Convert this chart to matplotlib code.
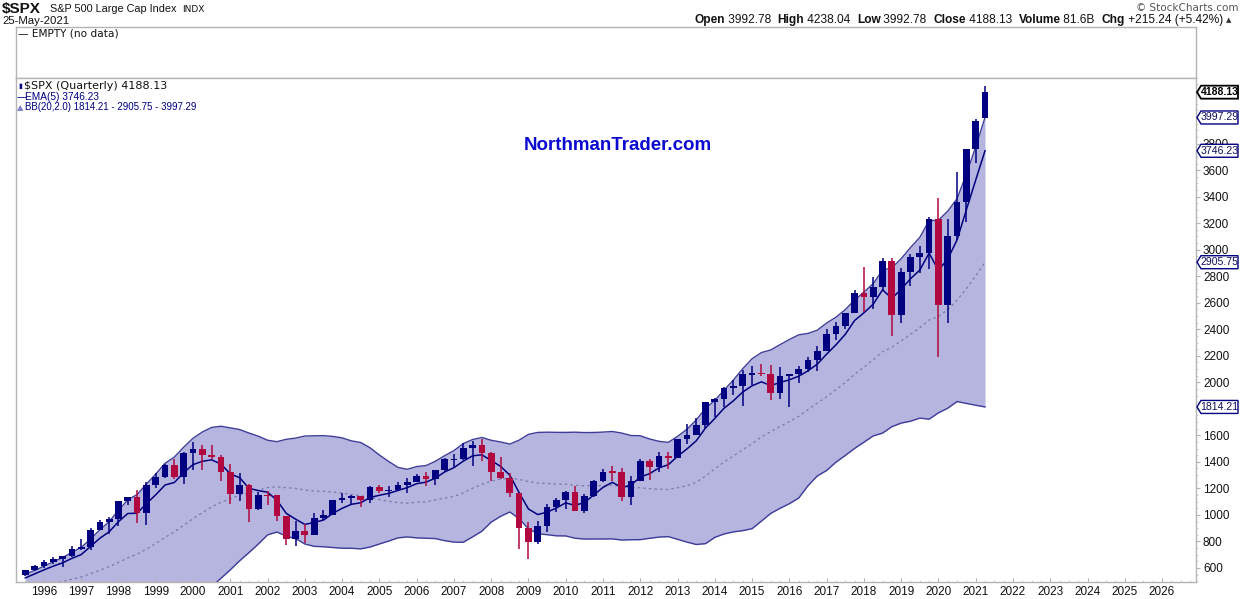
import matplotlib
matplotlib.use("Agg")
import matplotlib.pyplot as plt
from matplotlib.patches import Polygon
import numpy as np
import pandas as pd

# ---------------- data (quarterly $SPX) ----------------
quarters = [f"{y}Q{q}" for y in range(1995, 2022) for q in range(1, 5)][2:-2]
opens = [544.75, 584.41,
         615.93, 645.50, 670.63, 687.31,
         740.74, 757.12, 885.14, 947.28,
         970.43, 1101.75, 1133.84, 1017.01,
         1229.23, 1286.37, 1372.71, 1282.71,
         1469.25, 1498.58, 1454.60, 1436.51,
         1320.28, 1160.33, 1224.42, 1040.94,
         1148.08, 1147.39, 989.82, 815.28,
         879.82, 848.18, 974.50, 995.97,
         1111.92, 1126.21, 1140.84, 1114.58,
         1211.92, 1180.59, 1191.33, 1228.81,
         1248.29, 1294.83, 1270.20, 1335.85,
         1418.30, 1420.86, 1503.35, 1526.75,
         1468.36, 1322.70, 1280.00, 1166.36,
         903.25, 797.87, 919.32, 1057.08,
         1115.10, 1169.43, 1030.71, 1141.20,
         1257.64, 1325.83, 1320.64, 1131.42,
         1257.60, 1408.47, 1362.16, 1440.67,
         1426.19, 1569.19, 1606.28, 1681.55,
         1848.36, 1872.34, 1960.23, 1972.29,
         2058.90, 2067.89, 2063.11, 1920.03,
         2043.94, 2059.74, 2098.86, 2168.27,
         2238.83, 2362.72, 2423.41, 2519.36,
         2673.61, 2640.87, 2718.37, 2913.98,
         2506.85, 2834.40, 2941.76, 2976.74,
         3230.78, 2584.59, 3100.29, 3363.00,
         3756.07, 3992.78]
highs = [586.77, 622.88,
         656.97, 681.10, 690.88, 762.12,
         817.68, 898.70, 961.38, 983.79,
         1105.65, 1138.49, 1190.58, 1244.93,
         1316.55, 1383.26, 1420.33, 1473.10,
         1553.11, 1527.19, 1530.09, 1454.00,
         1383.37, 1315.93, 1236.79, 1172.64,
         1176.97, 1147.84, 994.46, 954.28,
         935.05, 1015.33, 1040.29, 1112.56,
         1163.23, 1150.57, 1140.84, 1217.90,
         1229.11, 1219.59, 1245.86, 1275.80,
         1310.88, 1326.70, 1340.28, 1431.81,
         1461.57, 1540.56, 1555.90, 1576.09,
         1471.77, 1440.24, 1313.15, 1167.03,
         943.85, 956.23, 1080.15, 1130.38,
         1180.69, 1219.80, 1157.16, 1262.60,
         1344.07, 1370.58, 1356.48, 1292.66,
         1419.15, 1422.38, 1474.51, 1470.96,
         1570.28, 1687.18, 1729.86, 1849.44,
         1883.97, 1968.17, 2019.26, 2093.55,
         2119.59, 2134.72, 2132.82, 2116.48,
         2043.94, 2120.55, 2193.81, 2277.53,
         2400.98, 2453.82, 2519.44, 2694.97,
         2872.87, 2791.47, 2940.91, 2939.86,
         2860.31, 2964.15, 3027.98, 3247.93,
         3393.52, 3233.13, 3588.11, 3760.20,
         3983.87, 4238.04]
lows = [539.24, 576.55,
        597.29, 627.50, 605.88, 684.12,
        733.16, 733.54, 884.36, 855.27,
        912.83, 1074.91, 939.98, 923.32,
        1205.46, 1281.41, 1268.37, 1233.70,
        1339.15, 1339.40, 1422.62, 1254.07,
        1081.19, 1103.26, 944.75, 1037.00,
        1074.36, 952.80, 775.68, 768.63,
        788.90, 847.85, 960.84, 995.97,
        1087.16, 1076.32, 1060.72, 1090.19,
        1163.69, 1136.15, 1183.55, 1168.20,
        1245.74, 1219.29, 1224.54, 1327.10,
        1363.98, 1416.37, 1370.60, 1406.10,
        1256.98, 1272.00, 1133.50, 741.02,
        666.79, 783.32, 869.32, 1019.95,
        1044.50, 1028.33, 1010.91, 1131.87,
        1249.05, 1258.07, 1101.54, 1074.77,
        1258.86, 1266.74, 1325.41, 1343.35,
        1426.19, 1536.03, 1604.57, 1646.47,
        1737.92, 1814.36, 1904.78, 1820.66,
        1980.90, 2048.38, 1867.01, 1871.91,
        1810.10, 1991.68, 2074.02, 2083.79,
        2233.62, 2322.25, 2405.70, 2520.40,
        2532.69, 2553.80, 2691.99, 2346.58,
        2443.96, 2728.81, 2822.12, 2855.94,
        2191.86, 2447.49, 3073.17, 3209.45,
        3656.64, 3992.78]
closes = [584.41, 615.93,
          645.50, 670.63, 687.31, 740.74,
          757.12, 885.14, 947.28, 970.43,
          1101.75, 1133.84, 1017.01, 1229.23,
          1286.37, 1372.71, 1282.71, 1469.25,
          1498.58, 1454.60, 1436.51, 1320.28,
          1160.33, 1224.42, 1040.94, 1148.08,
          1147.39, 989.82, 815.28, 879.82,
          848.18, 974.50, 995.97, 1111.92,
          1126.21, 1140.84, 1114.58, 1211.92,
          1180.59, 1191.33, 1228.81, 1248.29,
          1294.83, 1270.20, 1335.85, 1418.30,
          1420.86, 1503.35, 1526.75, 1468.36,
          1322.70, 1280.00, 1166.36, 903.25,
          797.87, 919.32, 1057.08, 1115.10,
          1169.43, 1030.71, 1141.20, 1257.64,
          1325.83, 1320.64, 1131.42, 1257.60,
          1408.47, 1362.16, 1440.67, 1426.19,
          1569.19, 1606.28, 1681.55, 1848.36,
          1872.34, 1960.23, 1972.29, 2058.90,
          2067.89, 2063.11, 1920.03, 2043.94,
          2059.74, 2098.86, 2168.27, 2238.83,
          2362.72, 2423.41, 2519.36, 2673.61,
          2640.87, 2718.37, 2913.98, 2506.85,
          2834.40, 2941.76, 2976.74, 3230.78,
          2584.59, 3100.29, 3363.00, 3756.07,
          3972.89, 4188.13]
# closes before the visible window (1990Q3 - 1995Q2), needed for the indicators
prior_closes = [306.05, 330.22, 375.22, 371.16, 387.86, 417.09, 403.69,
                408.14, 417.80, 435.71, 451.67, 450.53, 458.93, 466.45,
                445.77, 444.27, 462.69, 459.27, 500.71, 544.75]

# last indicator readings as printed on the chart
last_close = 4188.13
last_ema = 3746.23
last_bb = [1814.21, 2905.75, 3997.29]   # lower, middle, upper

year_labels = list(range(1996, 2027))
price_ticks = [600, 800, 1000, 1200, 1400, 1600, 2000, 2200, 2400, 2600, 2800,
               3000, 3200, 3400, 3600, 3800]
header_fields = [("Open", "3992.78"), ("High", "4238.04"), ("Low", "3992.78"),
                 ("Close", "4188.13"), ("Volume", "81.6B"), ("Chg", "+215.24 (+5.42%)")]

# ---------------- derived ----------------
o = np.array(opens); h = np.array(highs); l = np.array(lows); c = np.array(closes)
t = np.array([int(s[:4]) + (int(s[-1]) - 1) / 4 for s in quarters])
allc = pd.Series(prior_closes + closes)
ema = allc.ewm(span=5, adjust=False).mean().values[len(prior_closes):]
mid = allc.rolling(20).mean().values[len(prior_closes):]
sd = allc.rolling(20).std(ddof=0).values[len(prior_closes):]
upper = mid + 2 * sd
lower = mid - 2 * sd

NAVY = "#000080"
RED = "#b0083f"
BAND = "#b5b5e0"
BANDLINE = "#3d3d99"

W, H = 1240, 599
fig = plt.figure(figsize=(W / 100, H / 100), dpi=100)
fx = lambda px: px / W
fy = lambda py: 1 - py / H

L, R, T0, T1, B = 16, 1196, 27, 78, 582
ax0 = fig.add_axes([fx(L), fy(T1), fx(R) - fx(L), fy(T0) - fy(T1)])
ax = fig.add_axes([fx(L), fy(B), fx(R) - fx(L), fy(T1) - fy(B)])

for a in (ax0, ax):
    for s in a.spines.values():
        s.set_color("#b4b4b4")
        s.set_linewidth(1)
ax0.set_xticks([]); ax0.set_yticks([])

# x mapping: px = 39 + 37.43*(t-1996)
ax.set_xlim(1996 + (L - 39) / 37.43, 1996 + (R - 39) / 37.43)
ax.set_ylim(494, 4295)

# Bollinger band
ax.fill_between(t, lower, upper, color=BAND, lw=0, zorder=1)
ax.plot(t, upper, color=BANDLINE, lw=1, zorder=2)
ax.plot(t, lower, color=BANDLINE, lw=1, zorder=2)
ax.plot(t, mid, color="#7a7aa8", lw=0.9, ls=(0, (2, 2.5)), zorder=2)
# EMA
ax.plot(t, ema, color=NAVY, lw=1.1, zorder=3)

# candles
cols = [RED if cc < oo else NAVY for oo, cc in zip(o, c)]
ax.vlines(t, l, h, colors=cols, lw=1.1, zorder=4)
body_lo = np.minimum(o, c)
body_h = np.maximum(np.abs(c - o), 9)
body_lo = np.where(np.abs(c - o) < 9, (o + c) / 2 - 4.5, body_lo)
ax.bar(t, body_h, bottom=body_lo, width=0.18, color=cols, lw=0, zorder=5)

# axes ticks
ax.set_xticks(year_labels)
ax.set_xticklabels([str(y) for y in year_labels])
ax.set_xticks(np.arange(1995.25, 2027, 0.25), minor=True)
ax.tick_params(axis="x", which="major", direction="in", length=3, color="#b4b4b4",
               labelsize=8.5, labelcolor="#111111", pad=3)
ax.tick_params(axis="x", which="minor", direction="in", length=1.5, color="#c8c8c8")
ax.yaxis.tick_right()
ax.set_yticks(price_ticks)
ax.set_yticklabels([str(v) for v in price_ticks])
ax.set_yticks(np.arange(500, 4300, 50), minor=True)
ax.tick_params(axis="y", which="major", direction="out", length=3, color="#b4b4b4",
               labelsize=8.5, labelcolor="#111111", pad=2)
ax.tick_params(axis="y", which="minor", direction="out", length=1.5, color="#c8c8c8")
for lab in ax.get_xticklabels() + ax.get_yticklabels():
    lab.set_fontfamily("Liberation Sans")

# watermark
ax.text(0.510, 0.867, "NorthmanTrader.com", transform=ax.transAxes, ha="center", va="center",
        fontsize=13.5, fontweight="bold", color="#0a0ad0", family="Liberation Sans", zorder=6)

# legend inside main panel
fig.text(fx(24), fy(86), f"$SPX (Quarterly) {last_close:.2f}", fontsize=8, family="DejaVu Sans",
         va="center", ha="left", color="#111111")
fig.text(fx(18), fy(86), "▮", fontsize=5, color=NAVY, va="center", ha="left")
fig.text(fx(17), fy(97), "—", fontsize=7, color=NAVY, va="center", ha="left", family="DejaVu Sans")
fig.text(fx(25), fy(97), f"EMA(5) {last_ema:.2f}", fontsize=7.3, family="Liberation Sans",
         va="center", ha="left", color=NAVY)
fig.text(fx(17), fy(107.5), "▲", fontsize=6, color="#8080c8", va="center", ha="left")
fig.text(fx(25), fy(107.5), f"BB(20,2.0) {last_bb[0]:.2f} - {last_bb[1]:.2f} - {last_bb[2]:.2f}",
         fontsize=7.0, family="Liberation Sans", va="center", ha="left", color=NAVY)

# upper empty panel
fig.text(fx(18), fy(34), "— EMPTY (no data)", fontsize=7.6, family="DejaVu Sans",
         va="center", ha="left", color="#111111")

# header left
fig.text(fx(2), fy(9), "$SPX", fontsize=11, fontweight="bold", family="Liberation Sans",
         va="center", ha="left", color="#111111")
fig.text(fx(50), fy(9.5), "S&P 500 Large Cap Index", fontsize=7.8, family="Liberation Sans",
         va="center", ha="left", color="#111111")
fig.text(fx(182), fy(10), "INDX", fontsize=6.5, family="DejaVu Sans",
         va="center", ha="left", color="#111111")
fig.text(fx(2), fy(21.5), "25-May-2021", fontsize=8.2, family="Liberation Sans",
         va="center", ha="left", color="#111111")

# header right
fig.text(fx(1238), fy(8), "© StockCharts.com", fontsize=7.5, family="DejaVu Sans",
         va="center", ha="right", color="#555555")
fig.canvas.draw()
rend = fig.canvas.get_renderer()
xr = 1223
pieces = []
for k, v in header_fields:
    pieces.append((k, True)); pieces.append((" " + v + "  ", False))
pieces[-1] = (pieces[-1][0].rstrip(), False)
for txt, bold in reversed(pieces):
    tt = fig.text(fx(xr), fy(20), txt, fontsize=8.6, family="Liberation Sans",
                  fontweight="bold" if bold else "normal", va="center", ha="right", color="#111111")
    bb = tt.get_window_extent(renderer=rend)
    xr -= bb.width
fig.text(fx(1226), fy(20), "▲", fontsize=5, color="#333333", va="center", ha="left")

# price tags on right axis (pointed-left boxes)
def tag(val, col, bold=False):
    ypx = ax.transData.transform((0, val))[1]       # display px from bottom
    x0 = R + 1
    x1 = 1238
    hh = 6.5
    pts = [(x0, ypx), (x0 + 4, ypx + hh), (x1, ypx + hh), (x1, ypx - hh), (x0 + 4, ypx - hh)]
    pts = [(px / W, py / H) for px, py in pts]
    fig.patches.append(Polygon(pts, closed=True, transform=fig.transFigure, fc="white",
                               ec=col, lw=1.3 if bold else 1, zorder=10))
    fig.text((x0 + 4 + x1) / 2 / W, ypx / H, f"{val:.2f}", ha="center", va="center",
             fontsize=7.6, fontweight="bold" if bold else "normal",
             family="Liberation Sans", color="black" if bold else "#10105a", zorder=11)

tag(last_bb[0], NAVY)
tag(last_bb[1], NAVY)
tag(last_ema, NAVY)
tag(last_bb[2], NAVY)
tag(last_close, "black", bold=True)

fig.savefig("out.png", dpi=100)
